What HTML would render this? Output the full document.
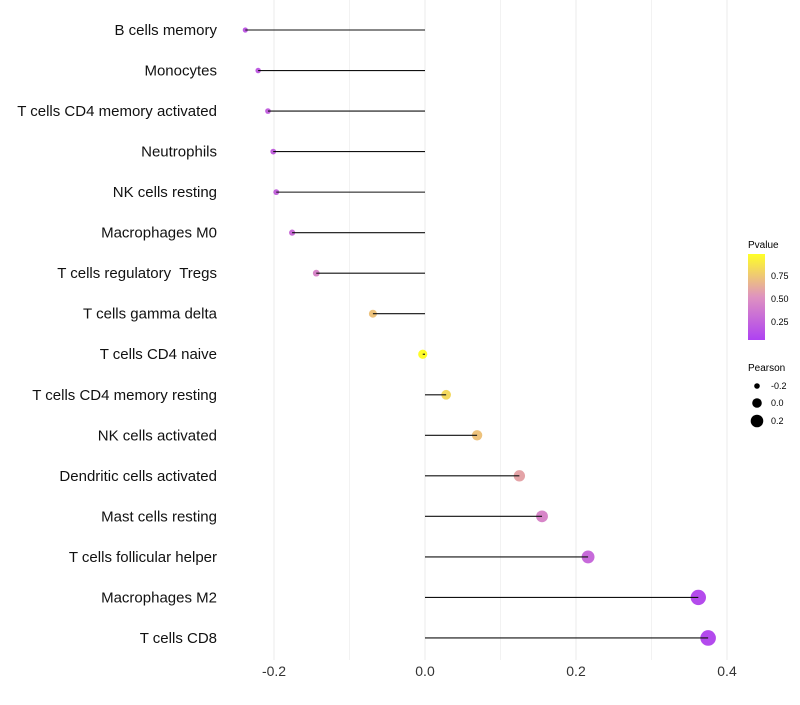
<!DOCTYPE html>
<html><head><meta charset="utf-8"><style>
body{margin:0;background:#fff;font-family:"Liberation Sans",sans-serif}
text{white-space:pre}
</style></head><body>
<svg id="chart" width="800" height="700" xmlns="http://www.w3.org/2000/svg">
<defs><linearGradient id="pg" x1="0" y1="1" x2="0" y2="0">
<stop offset="0" stop-color="#A020F0"/><stop offset="0.5" stop-color="#D97FB5"/><stop offset="1" stop-color="#FFFF00"/>
</linearGradient></defs>
<g id="grid"></g><g id="dots"></g><g id="marks"></g><g id="labels"></g>
<g font-size="9">
<text x="748" y="248" font-size="10">Pvalue</text>
<rect x="748" y="254" width="17" height="86" fill="url(#pg)" opacity="0.85"/>
<text x="771" y="279">0.75</text><text x="771" y="302">0.50</text><text x="771" y="325">0.25</text>
</g>
<g font-size="9">
<text x="748" y="371" font-size="10">Pearson</text>
<circle cx="757" cy="386" r="2.8"/><text x="771" y="389">-0.2</text>
<circle cx="757" cy="403" r="4.8"/><text x="771" y="406">0.0</text>
<circle cx="757" cy="421" r="6.3"/><text x="771" y="424">0.2</text>
</g>
</svg>
<script>
const categories=["B cells memory","Monocytes","T cells CD4 memory activated","Neutrophils","NK cells resting","Macrophages M0","T cells regulatory  Tregs","T cells gamma delta","T cells CD4 naive","T cells CD4 memory resting","NK cells activated","Dendritic cells activated","Mast cells resting","T cells follicular helper","Macrophages M2","T cells CD8"];
const pearson=[-0.238,-0.221,-0.208,-0.201,-0.197,-0.176,-0.144,-0.069,-0.003,0.028,0.069,0.125,0.155,0.216,0.362,0.375];
const pvalues=[0.15,0.17,0.2,0.2,0.22,0.27,0.42,0.72,0.99,0.82,0.72,0.58,0.42,0.25,0.06,0.05];
const xTicks=[-0.2,0,0.2,0.4];
const xTickLabels=["-0.2","0.0","0.2","0.4"];
const xMinor=[-0.1,0.1,0.3];
const NS="http://www.w3.org/2000/svg";
const xs=v=>425+v*755;
const ys=i=>30+i*40.53;
function el(t,a,p){const e=document.createElementNS(NS,t);for(const k in a)e.setAttribute(k,a[k]);p.appendChild(e);return e;}
function lerp(a,b,t){return a.map((x,i)=>Math.round(x+(b[i]-x)*t));}
function col(p){const c0=[160,32,240],c1=[217,127,181],c2=[255,255,0];const c=p<0.5?lerp(c0,c1,p/0.5):lerp(c1,c2,(p-0.5)/0.5);return `rgb(${c})`;}
const grid=document.getElementById('grid'),dots=document.getElementById('dots'),marks=document.getElementById('marks'),labels=document.getElementById('labels');
xMinor.forEach(v=>{const l=el('line',{x1:xs(v),x2:xs(v),y1:0,y2:660,stroke:'#f2f2f2','stroke-width':1},grid);

});
xTicks.forEach((v,i)=>{const l=el('line',{x1:xs(v),x2:xs(v),y1:0,y2:660,stroke:'#ebebeb','stroke-width':1},grid);


const t=el('text',{x:xs(v),y:676,'text-anchor':'middle','font-size':14,fill:'#333'},labels);t.textContent=xTickLabels[i];

});
categories.forEach((c,i)=>{const y=ys(i);
const t=el('text',{x:217,y:y+5,'text-anchor':'end','font-size':15,fill:'#111'},labels);t.textContent=c;


const r=Math.max(1.8,4.6+8.5*pearson[i]);
const d=el('circle',{cx:xs(pearson[i]),cy:y,r:r,fill:col(pvalues[i]),'fill-opacity':0.85},dots);


const s=el('line',{x1:xs(0),x2:xs(pearson[i]),y1:y,y2:y,stroke:'#111','stroke-width':1.1},marks);

});
</script>
</body></html>
